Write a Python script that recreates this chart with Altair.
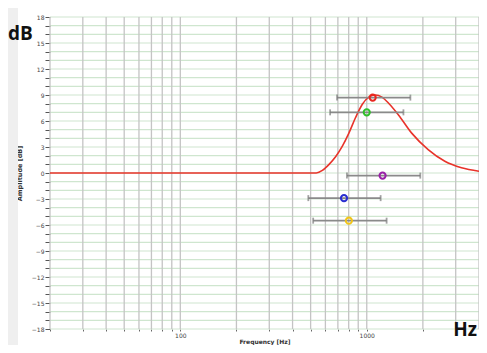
import altair as alt
import pandas as pd

# Response curve (Hz, dB)
curve_hz = [20, 300, 536, 578, 628, 682, 740, 802, 871, 945, 1025, 1112, 1207, 1310, 1480, 1742, 2135, 2623, 3223, 4000]
curve_db = [0, 0, 0, 0.3, 1.0, 1.9, 3.1, 4.6, 6.4, 7.9, 8.75, 9.0, 8.75, 8.05, 6.7, 4.6, 2.7, 1.35, 0.6, 0.2]

# Markers with horizontal error bars
pt_name = ["red", "green", "purple", "blue", "yellow"]
pt_hz = [1076, 1000, 1216, 755, 802]
pt_db = [8.7, 7.0, -0.3, -2.9, -5.5]
pt_lo = [693, 636, 783, 486, 516]
pt_hi = [1714, 1573, 1937, 1187, 1278]
pt_color = ["#e8271f", "#2fbf2a", "#9a1fa8", "#2a2fd0", "#f0c419"]

x_ticks = [20, 30, 40, 50, 60, 70, 80, 90, 100, 200, 300, 400, 500, 600, 700, 800, 900, 1000, 2000, 3000, 4000]
y_ticks = list(range(-18, 19))

curve = pd.DataFrame({"hz": curve_hz, "db": curve_db})
pts = pd.DataFrame({"name": pt_name, "hz": pt_hz, "db": pt_db, "lo": pt_lo, "hi": pt_hi})
xgrid = pd.DataFrame({"hz": x_ticks})
ygrid = pd.DataFrame({"db": y_ticks})

xscale = alt.Scale(type="log", domain=[20, 4000], nice=False)
yscale = alt.Scale(domain=[-18, 18], nice=False)

xaxis = alt.Axis(
    values=x_ticks, format="d", title="Frequency [Hz]",
    labelExpr="datum.value == 100 || datum.value == 1000 ? datum.label : ''",
    grid=False, domain=False, labelOverlap=False,
    tickSize=2, tickColor="#666", labelFontSize=6, labelColor="#444", labelPadding=1,
    titleFontSize=6, titleFontWeight="bold", titleColor="#333", titlePadding=0,
)
yaxis = alt.Axis(
    values=y_ticks, title="Amplitude [dB]",
    labelExpr="datum.value % 3 == 0 ? datum.label : ''",
    grid=False, domain=False, labelOverlap=False,
    tickSize=5, tickColor="#555", labelFontSize=6, labelColor="#444", labelPadding=1,
    titleFontSize=6.5, titleFontWeight="bold", titleColor="#333", titlePadding=9,
)

X = lambda f: alt.X(f, scale=xscale, axis=xaxis)
Y = lambda f: alt.Y(f, scale=yscale, axis=yaxis)

strip = alt.Chart(pd.DataFrame({"k": [0]})).mark_rect(color="#efefef").encode(
    x=alt.value(-42), x2=alt.value(-32), y=alt.value(-9), y2=alt.value(330)
)

hgrid = alt.Chart(ygrid).mark_rule(color="#cfe6cf", strokeWidth=1.2).encode(y=Y("db:Q"))
vgrid = alt.Chart(xgrid).mark_rule(color="#c4c4c4", strokeWidth=1.3).encode(x=X("hz:Q"))

base_curve = alt.Chart(curve).mark_line(color="#e8332a", strokeWidth=1.6, interpolate="monotone").encode(
    x=X("hz:Q"), y=Y("db:Q"),
)

bars = alt.Chart(pts).mark_rule(color="#8a8a8a", strokeWidth=1.6).encode(
    x=X("lo:Q"), x2="hi:Q", y=Y("db:Q")
)
cap_lo = alt.Chart(pts).mark_tick(color="#7a7a7a", orient="vertical", size=6, thickness=1.8).encode(
    x=X("lo:Q"), y=Y("db:Q")
)
cap_hi = alt.Chart(pts).mark_tick(color="#7a7a7a", orient="vertical", size=6, thickness=1.8).encode(
    x=X("hi:Q"), y=Y("db:Q")
)
dots = alt.Chart(pts).mark_point(shape="circle", filled=False, strokeWidth=2, size=38, opacity=1).encode(
    x=X("hz:Q"), y=Y("db:Q"),
    color=alt.Color("name:N", scale=alt.Scale(domain=pt_name, range=pt_color), legend=None),
)

db_label = alt.Chart(pd.DataFrame({"t": ["dB"]})).mark_text(
    font="Open Sans", fontSize=19, fontWeight="bold", color="#111", align="left", baseline="middle"
).encode(text="t:N", x=alt.value(-42), y=alt.value(17))
hz_label = alt.Chart(pd.DataFrame({"t": ["Hz"]})).mark_text(
    font="Open Sans", fontSize=19, fontWeight="bold", color="#111", align="right", baseline="middle"
).encode(text="t:N", x=alt.value(427), y=alt.value(313))

chart = alt.layer(strip, hgrid, vgrid, base_curve, bars, cap_lo, cap_hi, dots, db_label, hz_label).properties(
    width=429, height=312,
    autosize=alt.AutoSizeParams(type="none"),
    padding={"left": 42, "top": 9, "right": 0, "bottom": 16},
    background="white",
).configure_view(stroke=None).configure_axis(labelFont="DejaVu Sans", titleFont="DejaVu Sans")

chart.save("out.html", embed_options={"renderer": "svg", "actions": False})
